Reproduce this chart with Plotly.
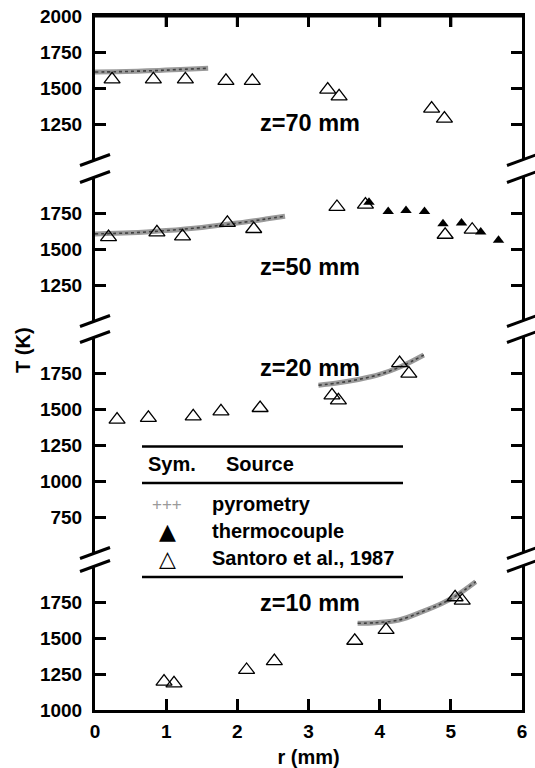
import plotly.graph_objects as go

# ---------------- data ----------------
r_tickvals = [0, 1, 2, 3, 4, 5, 6]
r_top_tickvals = [1, 2, 3, 4, 5]

# z = 70 mm
pyro70_r = [0.0, 0.3, 0.6, 0.9, 1.2, 1.59]
pyro70_T = [1611, 1613, 1617, 1622, 1629, 1637]
sant70_r = [0.24, 0.82, 1.27, 1.84, 2.21, 3.27, 3.43, 4.73, 4.91]
sant70_T = [1560, 1560, 1560, 1550, 1550, 1489, 1442, 1357, 1288]

# z = 50 mm
pyro50_r = [0.0, 0.5, 1.0, 1.5, 2.0, 2.4, 2.67]
pyro50_T = [1605, 1612, 1628, 1650, 1680, 1708, 1728]
sant50_r = [0.19, 0.87, 1.23, 1.86, 2.23, 3.40, 3.80, 4.92, 5.30]
sant50_T = [1583, 1615, 1588, 1681, 1639, 1792, 1808, 1599, 1634]
tc50_r = [3.85, 4.12, 4.37, 4.63, 4.89, 5.15, 5.42, 5.67]
tc50_T = [1824, 1761, 1768, 1761, 1676, 1681, 1618, 1560]

# z = 20 mm
pyro20_r = [3.14, 3.4, 3.7, 4.0, 4.3, 4.62]
pyro20_T = [1665, 1680, 1705, 1740, 1795, 1875]
sant20_r = [0.31, 0.75, 1.38, 1.77, 2.32, 3.33, 3.42, 4.28, 4.41]
sant20_T = [1426, 1438, 1449, 1484, 1507, 1595, 1560, 1819, 1746]

# z = 10 mm
pyro10_r = [3.69, 3.94, 4.27, 4.60, 4.88, 5.07, 5.35]
pyro10_T = [1602, 1606, 1625, 1683, 1741, 1792, 1891]
sant10_r = [0.97, 1.11, 2.13, 2.52, 3.65, 4.09, 5.06, 5.16]
sant10_T = [1197, 1185, 1278, 1340, 1481, 1556, 1783, 1759]

panel_labels = ["z=70 mm", "z=50 mm", "z=20 mm", "z=10 mm"]
panel_label_T = [1255, 1375, 1783, 1745]
panel_ranges = [[1000, 2000], [1000, 2000], [500, 2000], [1000, 2000]]
panel_tickvals = [[1250, 1500, 1750, 2000], [1250, 1500, 1750],
                  [750, 1000, 1250, 1500, 1750], [1000, 1250, 1500, 1750]]

legend_sources = ["pyrometry", "thermocouple", "Santoro et al., 1987"]
legend_symbols = ["+++", "\u25B2", "\u25B3"]

# ---------------- layout geometry ----------------
W, H = 535, 768
ML, MR, MT, MB = 95, 13, 10, 58
PW, PH = W - ML - MR, H - MT - MB


def px_x(px):
    return (px - ML) / PW


def px_y(py):
    return (H - MB - py) / PH


# panel extents in pixels (top, bottom)
panel_px = [(16, 160), (177, 321), (337, 553), (566, 710)]
domains = [[max(0.0, px_y(b)), min(1.0, px_y(t))] for (t, b) in panel_px]
top_y = domains[0][1]

FONT = "Liberation Sans, Arial, Helvetica, sans-serif"
tri_open = dict(symbol="triangle-up-open", size=14, color="black",
                line=dict(color="black", width=1.3))
tri_fill = dict(symbol="triangle-up", size=10, color="black")

fig = go.Figure()

series = [
    (pyro70_r, pyro70_T, sant70_r, sant70_T, None, None),
    (pyro50_r, pyro50_T, sant50_r, sant50_T, tc50_r, tc50_T),
    (pyro20_r, pyro20_T, sant20_r, sant20_T, None, None),
    (pyro10_r, pyro10_T, sant10_r, sant10_T, None, None),
]

for i, (pr, pT, sr, sT, tr, tT) in enumerate(series):
    xa = "x" if i == 0 else f"x{i+1}"
    ya = "y" if i == 0 else f"y{i+1}"
    fig.add_trace(go.Scatter(x=pr, y=pT, mode="lines", line=dict(color="#9a9a9a", width=5),
                             line_shape="spline", xaxis=xa, yaxis=ya, showlegend=False,
                             name="pyrometry"))
    fig.add_trace(go.Scatter(x=pr, y=pT, mode="lines", line=dict(color="#404040", width=1.6, dash="dot"),
                             line_shape="spline", xaxis=xa, yaxis=ya, showlegend=False,
                             name="pyrometry"))
    fig.add_trace(go.Scatter(x=sr, y=sT, mode="markers", marker=tri_open,
                             xaxis=xa, yaxis=ya, showlegend=False, name="Santoro et al., 1987"))
    if tr is not None:
        fig.add_trace(go.Scatter(x=tr, y=tT, mode="markers", marker=tri_fill,
                                 xaxis=xa, yaxis=ya, showlegend=False, name="thermocouple"))

tickfont = dict(family=FONT, size=19, color="black", weight="bold")

layout = dict(
    width=W, height=H,
    margin=dict(l=ML, r=MR, t=MT, b=MB, autoexpand=False),
    paper_bgcolor="white", plot_bgcolor="white",
    showlegend=False,
)

for i in range(4):
    xk = "xaxis" if i == 0 else f"xaxis{i+1}"
    yk = "yaxis" if i == 0 else f"yaxis{i+1}"
    ya = "y" if i == 0 else f"y{i+1}"
    xa = "x" if i == 0 else f"x{i+1}"
    layout[yk] = dict(
        domain=domains[i], range=panel_ranges[i], anchor=xa,
        tickvals=panel_tickvals[i], ticks="inside", ticklen=11, tickwidth=3,
        tickcolor="black", showline=True, linewidth=3, linecolor="black",
        mirror="ticks", showgrid=False, zeroline=False, tickfont=tickfont,
        ticklabelstandoff=6, ticklabeloverflow="allow", automargin=False,
    )
    xd = dict(range=[0, 6], anchor=ya, showgrid=False, zeroline=False, automargin=False)
    if i == 0:
        xd.update(side="top", showline=True, linewidth=3, linecolor="black",
                  ticks="inside", ticklen=11, tickwidth=3, tickcolor="black",
                  tickvals=r_top_tickvals, showticklabels=False)
    elif i == 3:
        xd.update(side="bottom", showline=True, linewidth=3, linecolor="black",
                  ticks="inside", ticklen=11, tickwidth=3, tickcolor="black",
                  tickvals=r_tickvals, tickfont=tickfont, ticklabeloverflow="allow",
                  ticklabelstandoff=2,
                  title=dict(text="r (mm)", font=dict(family=FONT, size=20, color="black",
                                                      weight="bold"), standoff=10))
    else:
        xd.update(visible=False)
    layout[xk] = xd

fig.update_layout(**layout)

shapes = []
# top frame of the upper panel (with its inward ticks)
shapes.append(dict(type="line", xref="paper", yref="paper", x0=0, x1=1,
                   y0=top_y, y1=top_y, layer="above",
                   line=dict(color="black", width=3)))
for tv in r_top_tickvals:
    shapes.append(dict(type="line", xref="x", yref="paper", x0=tv, x1=tv,
                       ysizemode="pixel", yanchor=top_y, y0=0, y1=-11,
                       layer="above", line=dict(color="black", width=3)))

# axis breaks
for i in range(3):
    upper_bottom = domains[i][0]
    lower_top = domains[i + 1][1]
    for xanc in (0, 1):
        for yanc in (upper_bottom, lower_top):
            shapes.append(dict(type="line", xref="paper", yref="paper",
                               xsizemode="pixel", ysizemode="pixel",
                               xanchor=xanc, yanchor=yanc,
                               x0=-15, x1=15, y0=-5.5, y1=5.5,
                               line=dict(color="black", width=3)))

# legend table lines
for ly in (446.5, 483, 577):
    shapes.append(dict(type="line", xref="paper", yref="paper",
                       x0=px_x(142), x1=px_x(403), y0=px_y(ly), y1=px_y(ly),
                       line=dict(color="black", width=2.6)))
fig.update_layout(shapes=shapes)

ann = []
# panel labels
for i in range(4):
    xa = "x" if i == 0 else f"x{i+1}"
    ya = "y" if i == 0 else f"y{i+1}"
    ann.append(dict(x=3.75, y=panel_label_T[i], xref=xa, yref=ya, text=panel_labels[i],
                    xanchor="right", yanchor="middle", showarrow=False,
                    font=dict(family=FONT, size=23.5, color="black", weight="bold")))

# y title
ann.append(dict(x=px_x(23), y=px_y(350), xref="paper", yref="paper", text="T (K)",
                textangle=-90, showarrow=False, xanchor="center", yanchor="middle",
                font=dict(family=FONT, size=20, color="black", weight="bold")))

# legend table text
lfont = dict(family=FONT, size=20, color="black", weight="bold")
ann.append(dict(x=px_x(146), y=px_y(464), xref="paper", yref="paper", text="Sym.",
                xanchor="left", yanchor="middle", showarrow=False, font=lfont))
ann.append(dict(x=px_x(224), y=px_y(464), xref="paper", yref="paper", text="Source",
                xanchor="left", yanchor="middle", showarrow=False, font=lfont))
row_y = [504, 531, 558]
sym_fonts = [dict(family=FONT, size=17, color="#9a9a9a"),
             dict(family="DejaVu Sans", size=22, color="black"),
             dict(family="DejaVu Sans", size=22, color="black")]
for k in range(3):
    ann.append(dict(x=px_x(167), y=px_y(row_y[k]), xref="paper", yref="paper",
                    text=legend_symbols[k], xanchor="center", yanchor="middle",
                    showarrow=False, font=sym_fonts[k]))
    ann.append(dict(x=px_x(210), y=px_y(row_y[k]), xref="paper", yref="paper",
                    text=legend_sources[k], xanchor="left", yanchor="middle",
                    showarrow=False, font=lfont))
fig.update_layout(annotations=ann)

fig.write_html("out.html", config={"displayModeBar": False},
               post_script="document.body.style.margin='0px';")
